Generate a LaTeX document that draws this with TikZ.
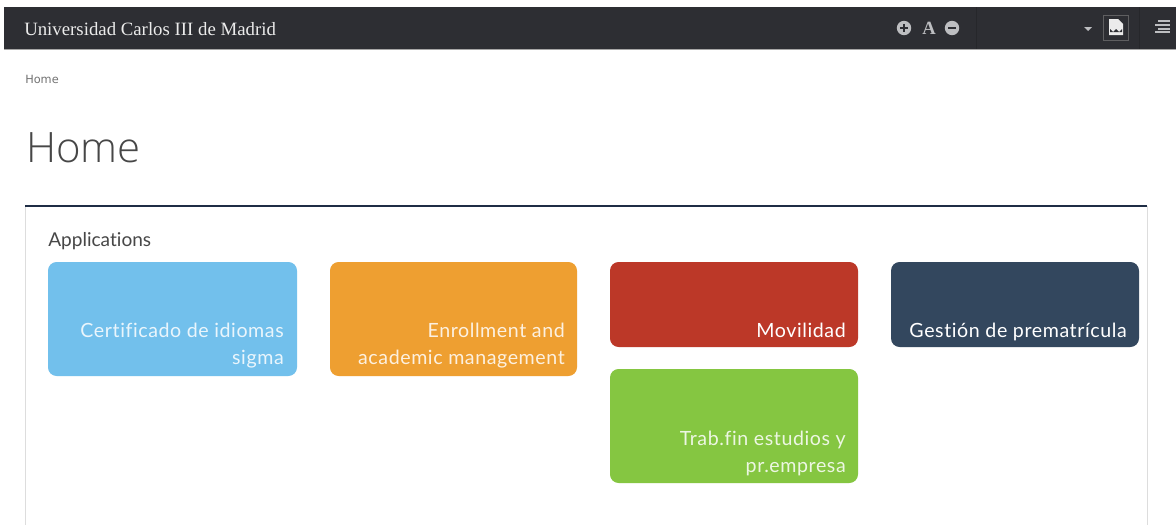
\documentclass[tikz,border=0pt]{standalone}
\usepackage{fontspec}
\setmainfont{Lato}[Ligatures={NoCommon}]
\newfontfamily\tilef{Lato}[LetterSpace=3,Ligatures={NoCommon}]
\newfontfamily\serifhead{Liberation Serif}
\newfontfamily\thinf{Open Sans Light}
\newfontfamily\crumb{DejaVu Sans}
\definecolor{barc}{HTML}{2D2E33}
\definecolor{iconc}{HTML}{BDBEC1}
\definecolor{framec}{HTML}{DDDDDD}
\definecolor{topc}{HTML}{1F2D45}
\definecolor{tileblue}{HTML}{72C0EC}
\definecolor{tileorange}{HTML}{EE9F31}
\definecolor{tilered}{HTML}{BC3828}
\definecolor{tilenavy}{HTML}{33475E}
\definecolor{tilegreen}{HTML}{85C641}
\tikzset{
  tile/.style={fill=#1,rounded corners=6.5pt,draw=none},
  tiletext/.style={text=white,anchor=north east,align=right,font=\tilef\fontsize{14.7}{20.4}\selectfont,inner sep=0pt},
  softtext/.style={tiletext,text opacity=0.85},
  icon/.style={fill=iconc,draw=none},
}
\begin{document}
\begin{tikzpicture}[x=0.75pt,y=-0.75pt]
\useasboundingbox (0,0) rectangle (1176,525);
\fill[white] (0,0) rectangle (1176,525);
% top bar
\fill[barc] (4,7) rectangle (1176,49);
\fill[gray!70] (4,49) rectangle (1176,50);
\draw[black!15!barc,line width=0.4pt] (976,7) -- (976,49);
\draw[black!15!barc,line width=0.4pt] (1139,7) -- (1139,49);
\node[anchor=west,text=white!92!black,inner sep=0pt,font=\serifhead\fontsize{14.1}{16}\selectfont] (brand) at (24,29) {Universidad Carlos III de Madrid};
% zoom icons
\fill[icon] (904,28) circle (7.2);
\fill[barc] (900,27) rectangle (908,29);
\fill[barc] (903,24) rectangle (905,32);
\node[text=iconc,inner sep=0pt,font=\serifhead\bfseries\fontsize{14}{16}\selectfont] (fontA) at (929,28) {A};
\fill[icon] (952,28) circle (7.2);
\fill[barc] (948,27) rectangle (956,29);
% dropdown caret
\fill[icon] (1084,27) -- (1092,27) -- (1088,31) -- cycle;
% pdf button
\draw[gray!60!barc,line width=0.6pt] (1103,15) rectangle (1128,40);
\fill[white!92!black] (1109,19) -- (1118,19) -- (1123,24) -- (1123,35) -- (1109,35) -- cycle;
\fill[barc] (1110,29) -- (1113,32) -- (1116,29) -- (1119,32) -- (1122,29) -- (1122,32) -- (1110,32) -- cycle;
% menu icon
\fill[icon] (1158,20) rectangle (1170,22);
\fill[icon] (1155,24) rectangle (1170,26);
\fill[icon] (1158,28) rectangle (1170,30);
\fill[icon] (1155,31) rectangle (1170,33);
% breadcrumbs and title
\node[anchor=west,inner sep=0pt,text=black!55,font=\crumb\fontsize{8.5}{10}\selectfont] (crumb) at (25,79) {Home};
\node[anchor=west,inner sep=0pt,text=black!72,font=\thinf\fontsize{31.4}{35}\selectfont] (title) at (26,148) {Home};
% panel
\draw[framec,line width=0.6pt] (25,206) -- (25,525);
\draw[framec,line width=0.6pt] (1147,206) -- (1147,525);
\draw[topc,line width=1pt] (25,206) -- (1147,206);
\node[anchor=west,inner sep=0pt,text=black!72,font=\fontsize{14.3}{17}\selectfont] (apps) at (48,241) {Applications};
% tiles
\path[tile=tileblue] (48,262) rectangle (297,376);
\path[tile=tileorange] (330,262) rectangle (577,376);
\path[tile=tilered] (610,262) rectangle (858,347);
\path[tile=tilenavy] (891,262) rectangle (1139,347);
\path[tile=tilegreen] (610,369) rectangle (858,483);
\node[softtext] (t1) at (284,323) {Certificado de idiomas\\sigma};
\node[softtext] (t2) at (565,323) {Enrollment and\\academic management};
\node[tiletext] (t3) at (846,323) {Movilidad};
\node[tiletext] (t4) at (1127,323) {Gestión de prematrícula};
\node[softtext] (t5) at (846,431) {Trab.fin estudios y\\pr.empresa};
\end{tikzpicture}
\end{document}
